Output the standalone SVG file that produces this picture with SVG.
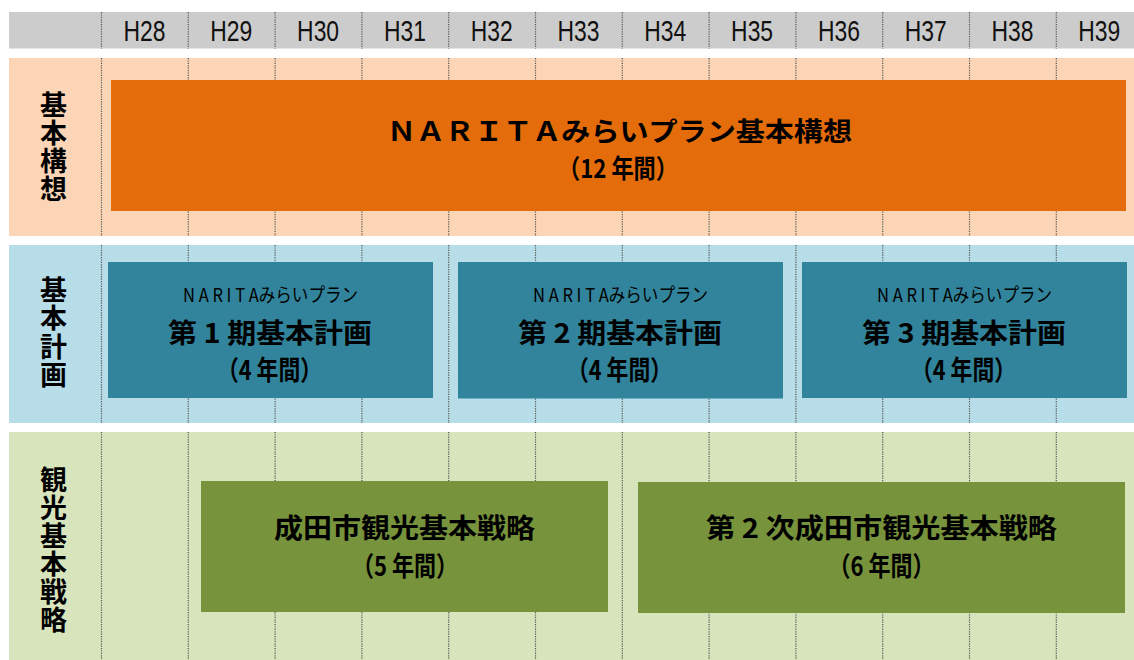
<svg xmlns="http://www.w3.org/2000/svg" width="1134" height="660" viewBox="0 0 1134 660">
<style>
.hdr{fill:#cccccc}
.yr{font-family:"Liberation Sans",Arial,sans-serif;font-size:30px;fill:#111;text-anchor:middle}
.div{stroke:#555;stroke-width:1.2;stroke-dasharray:1.2 1.2;fill:none}
.lbl{font-family:"Noto Sans CJK JP",sans-serif;font-weight:bold;font-size:27px;fill:#000;writing-mode:vertical-rl;letter-spacing:1px}
.big{font-family:"Noto Sans CJK JP",sans-serif;font-weight:bold;font-size:26px;fill:#000;text-anchor:middle}
.mid{font-family:"Noto Sans CJK JP",sans-serif;font-weight:bold;font-size:27px;fill:#000;text-anchor:middle}
.sm{font-family:"Noto Sans CJK JP",sans-serif;font-size:19px;fill:#000;text-anchor:middle}
</style>
<rect width="1134" height="660" fill="#ffffff"/>
<g id="header">
<rect class="hdr" x="9" y="12" width="1125" height="36.5"/>
<path class="div" d="M101.5 12V48.5M188.3 12V48.5M275.1 12V48.5M361.9 12V48.5M448.7 12V48.5M535.5 12V48.5M622.3 12V48.5M709.1 12V48.5M795.9 12V48.5M882.7 12V48.5M969.5 12V48.5M1056.3 12V48.5"/>
<text class="yr" x="144.5" y="40.5" textLength="42" lengthAdjust="spacingAndGlyphs">H28</text>
<text class="yr" x="231.3" y="40.5" textLength="42" lengthAdjust="spacingAndGlyphs">H29</text>
<text class="yr" x="318.1" y="40.5" textLength="42" lengthAdjust="spacingAndGlyphs">H30</text>
<text class="yr" x="404.9" y="40.5" textLength="42" lengthAdjust="spacingAndGlyphs">H31</text>
<text class="yr" x="491.7" y="40.5" textLength="42" lengthAdjust="spacingAndGlyphs">H32</text>
<text class="yr" x="578.5" y="40.5" textLength="42" lengthAdjust="spacingAndGlyphs">H33</text>
<text class="yr" x="665.3" y="40.5" textLength="42" lengthAdjust="spacingAndGlyphs">H34</text>
<text class="yr" x="752.1" y="40.5" textLength="42" lengthAdjust="spacingAndGlyphs">H35</text>
<text class="yr" x="838.9" y="40.5" textLength="42" lengthAdjust="spacingAndGlyphs">H36</text>
<text class="yr" x="925.7" y="40.5" textLength="42" lengthAdjust="spacingAndGlyphs">H37</text>
<text class="yr" x="1012.5" y="40.5" textLength="42" lengthAdjust="spacingAndGlyphs">H38</text>
<text class="yr" x="1099.3" y="40.5" textLength="42" lengthAdjust="spacingAndGlyphs">H39</text>
</g>
<g id="band-kihonkoso">
<rect x="9" y="58" width="1125" height="178" fill="#fbd5b5"/>
<path class="div" d="M101.5 58V236M188.3 58V236M275.1 58V236M361.9 58V236M448.7 58V236M535.5 58V236M622.3 58V236M709.1 58V236M795.9 58V236M882.7 58V236M969.5 58V236M1056.3 58V236"/>
<text class="lbl" x="53.5" y="91">基本構想</text>
</g>
<g id="band-kihonkeikaku">
<rect x="9" y="245" width="1125" height="178" fill="#b7dde8"/>
<path class="div" d="M101.5 245V423M188.3 245V423M275.1 245V423M361.9 245V423M448.7 245V423M535.5 245V423M622.3 245V423M709.1 245V423M795.9 245V423M882.7 245V423M969.5 245V423M1056.3 245V423"/>
<text class="lbl" x="53.5" y="276" style="letter-spacing:1.5px">基本計画</text>
</g>
<g id="band-kanko">
<rect x="9" y="432" width="1125" height="228" fill="#d7e4bc"/>
<path class="div" d="M101.5 432V660M188.3 432V660M275.1 432V660M361.9 432V660M448.7 432V660M535.5 432V660M622.3 432V660M709.1 432V660M795.9 432V660M882.7 432V660M969.5 432V660M1056.3 432V660"/>
<text class="lbl" x="53.5" y="466">観光基本戦略</text>
</g>
<g id="koso">
<rect x="111" y="80" width="1015" height="131" fill="#e46c0a"/>
<text class="big" x="619.5" y="140.5" textLength="465" lengthAdjust="spacingAndGlyphs">ＮＡＲＩＴＡみらいプラン基本構想</text>
<text class="big" x="618" y="177.5" font-size="27" textLength="120" lengthAdjust="spacingAndGlyphs">（12 年間）</text>
</g>
<g id="keikaku1">
<rect x="108" y="262" width="325" height="136" fill="#31849b"/>
<text class="sm" x="270.5" y="302" textLength="175" lengthAdjust="spacingAndGlyphs">N A R I T Aみらいプラン</text>
<text class="mid" x="270" y="343" textLength="204" lengthAdjust="spacingAndGlyphs">第 1 期基本計画</text>
<text class="mid" x="269.5" y="379.5" font-size="28" textLength="105" lengthAdjust="spacingAndGlyphs">（4 年間）</text>
</g>
<g id="keikaku2">
<rect x="458" y="262" width="325" height="136.5" fill="#31849b"/>
<text class="sm" x="620.5" y="302" textLength="175" lengthAdjust="spacingAndGlyphs">N A R I T Aみらいプラン</text>
<text class="mid" x="620" y="343" textLength="204" lengthAdjust="spacingAndGlyphs">第 2 期基本計画</text>
<text class="mid" x="619.5" y="379.5" font-size="28" textLength="105" lengthAdjust="spacingAndGlyphs">（4 年間）</text>
</g>
<g id="keikaku3">
<rect x="802" y="262" width="325" height="136" fill="#31849b"/>
<text class="sm" x="964.5" y="302" textLength="175" lengthAdjust="spacingAndGlyphs">N A R I T Aみらいプラン</text>
<text class="mid" x="964" y="343" textLength="204" lengthAdjust="spacingAndGlyphs">第 3 期基本計画</text>
<text class="mid" x="963.5" y="379.5" font-size="28" textLength="105" lengthAdjust="spacingAndGlyphs">（4 年間）</text>
</g>
<g id="senryaku1">
<rect x="201" y="481" width="407" height="131" fill="#77933c"/>
<text class="mid" x="404.5" y="538" textLength="261" lengthAdjust="spacingAndGlyphs">成田市観光基本戦略</text>
<text class="mid" x="405" y="575.5" font-size="28" textLength="106" lengthAdjust="spacingAndGlyphs">（5 年間）</text>
</g>
<g id="senryaku2">
<rect x="638" y="482" width="487" height="131" fill="#77933c"/>
<text class="mid" x="881.5" y="538" textLength="351" lengthAdjust="spacingAndGlyphs">第 2 次成田市観光基本戦略</text>
<text class="mid" x="881.5" y="575.5" font-size="28" textLength="106" lengthAdjust="spacingAndGlyphs">（6 年間）</text>
</g>
</svg>
